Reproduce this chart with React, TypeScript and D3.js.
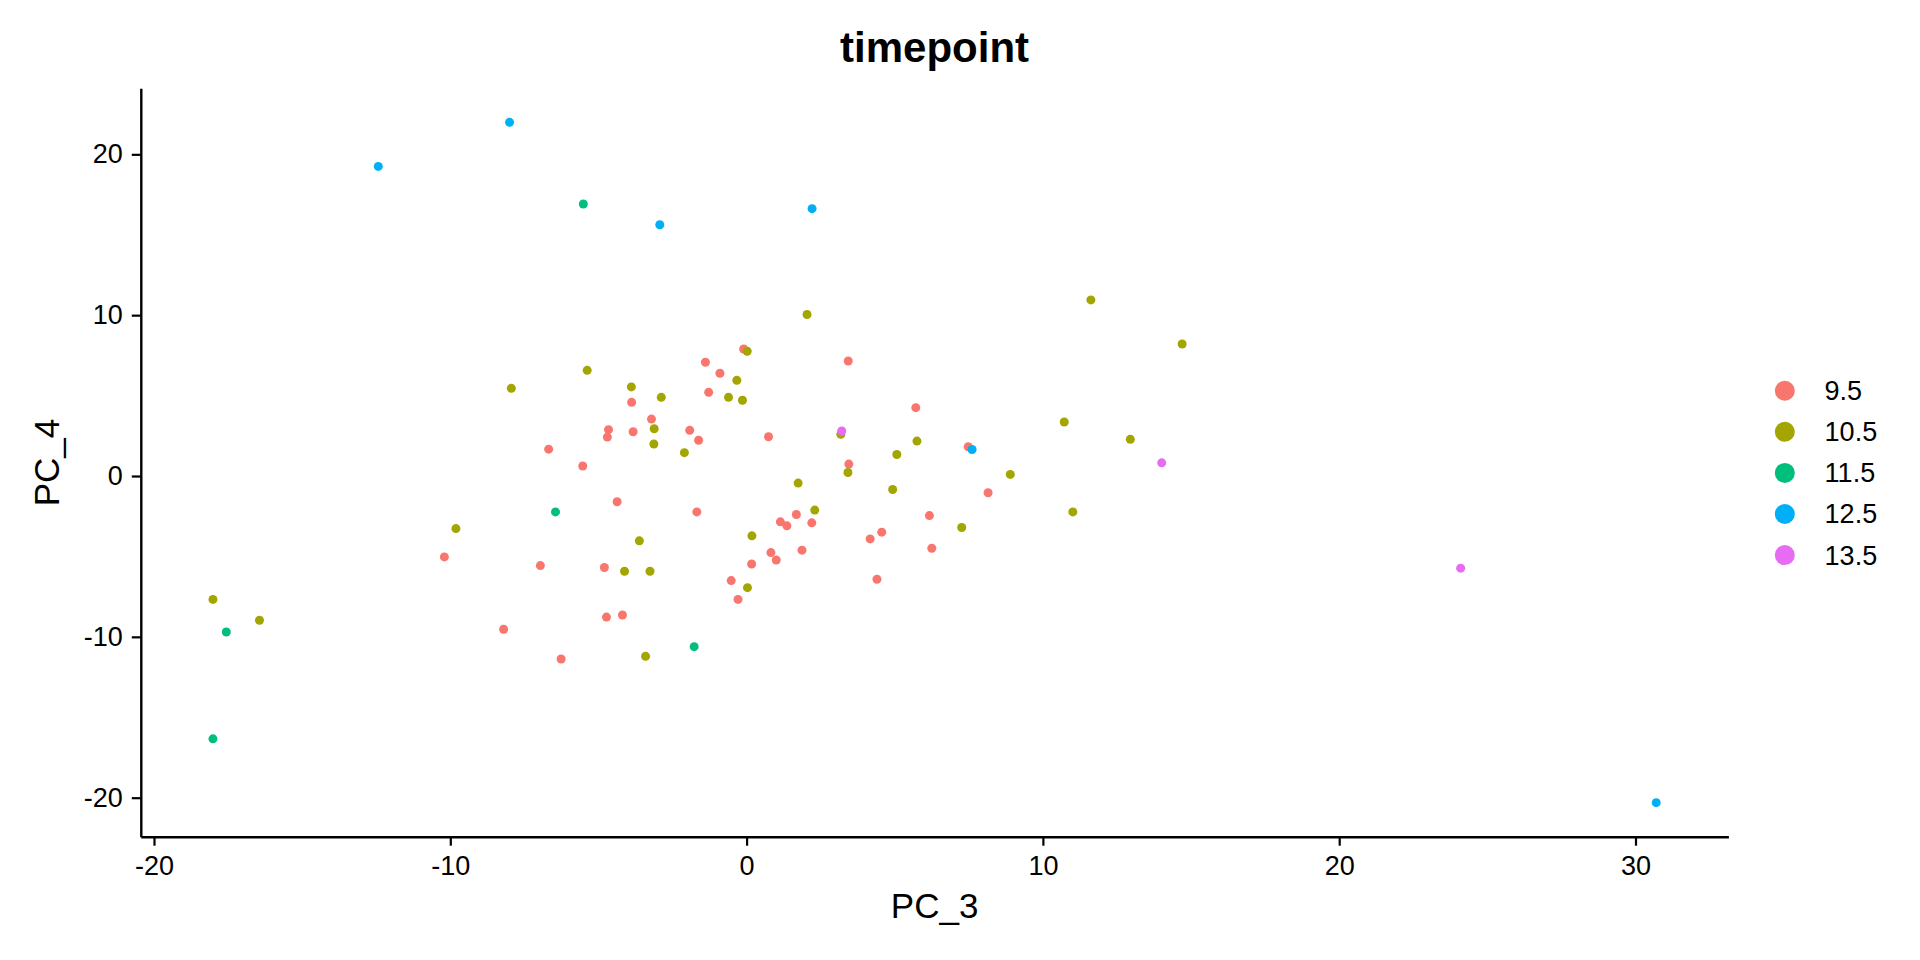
import React, { useRef, useEffect } from "react";
import * as d3 from "d3";

// timepoint groups and their ggplot hue colours
const timepoints = ["9.5", "10.5", "11.5", "12.5", "13.5"];
const colors = ["#F8766D", "#A3A500", "#00BF7D", "#00B0F6", "#E76BF3"];

// [PC_3, PC_4] per cell, one array per timepoint
const tp95: [number, number][] = [
  [-0.1, 7.9], [3.43, 7.15], [-1.39, 7.07], [-0.9, 6.39], [-1.28, 5.2], [-3.88, 4.58],
  [5.71, 4.25], [-3.21, 3.54], [-4.66, 2.88], [-4.7, 2.42], [-3.83, 2.75], [-1.92, 2.84],
  [-1.62, 2.22], [0.74, 2.44], [-6.68, 1.67], [-5.53, 0.62], [3.45, 0.74], [7.48, 1.82],
  [8.15, -1.04], [-4.37, -1.6], [-1.68, -2.23], [1.68, -2.39], [1.14, -2.85], [1.36, -3.1],
  [2.2, -2.91], [4.56, -3.49], [4.17, -3.91], [6.17, -2.46], [6.25, -4.49], [1.87, -4.61],
  [0.82, -4.76], [1.0, -5.22], [0.17, -5.47], [-0.52, -6.5], [-0.29, -7.67], [4.4, -6.42],
  [-10.2, -5.03], [-6.96, -5.57], [-4.8, -5.69], [-4.73, -8.77], [-4.19, -8.64],
  [-8.2, -9.53], [-6.26, -11.38],
];
const tp105: [number, number][] = [
  [-7.94, 5.45], [-5.38, 6.57], [-3.89, 5.54], [-2.88, 4.89], [-3.12, 2.94], [-3.13, 1.99],
  [-2.1, 1.45], [-0.33, 5.95], [-0.61, 4.89], [-0.14, 4.71], [0.02, 7.76], [2.04, 10.04],
  [11.62, 10.95], [14.7, 8.21], [10.72, 3.36], [12.95, 2.28], [5.75, 2.17], [5.07, 1.34],
  [3.18, 2.59], [3.42, 0.22], [1.74, -0.44], [4.93, -0.84], [8.9, 0.1], [11.01, -2.23],
  [7.26, -3.2], [2.3, -2.12], [0.18, -3.72], [0.03, -6.94], [-9.81, -3.27], [-3.62, -4.03],
  [-4.12, -5.92], [-3.26, -5.92], [-3.41, -11.21], [-18.01, -7.67], [-16.44, -8.97],
];
const tp115: [number, number][] = [
  [-5.51, 16.91], [-6.45, -2.23], [-17.56, -9.7], [-18.01, -16.34], [-1.77, -10.61],
];
const tp125: [number, number][] = [
  [-8.0, 21.99], [-12.43, 19.25], [-2.93, 15.62], [2.21, 16.62], [7.61, 1.65], [30.7, -20.31],
];
const tp135: [number, number][] = [
  [3.21, 2.8], [14.01, 0.82], [24.1, -5.73],
];

const xTicks = [-20, -10, 0, 10, 20, 30];
const yTicks = [-20, -10, 0, 10, 20];

const FONT = "'Liberation Sans', Arial, sans-serif";

const App: React.FC = () => {
  const svgRef = useRef<SVGSVGElement | null>(null);

  useEffect(() => {
    const svg = d3.select(svgRef.current);
    svg.selectAll("*").remove();

    const width = 1920;
    const height = 960;
    const panel = { left: 140.8, right: 1728.4, top: 88.3, bottom: 836.7 };

    const groups = [tp95, tp105, tp115, tp125, tp135];
    const all = groups.flat();

    // ggplot-style 5% expansion
    const [xmin, xmax] = d3.extent(all, (d) => d[0]) as [number, number];
    const [ymin, ymax] = d3.extent(all, (d) => d[1]) as [number, number];
    const xp = (xmax - xmin) * 0.05;
    const yp = (ymax - ymin) * 0.05;

    const x = d3.scaleLinear().domain([xmin - xp, xmax + xp]).range([panel.left, panel.right]);
    const y = d3.scaleLinear().domain([ymin - yp, ymax + yp]).range([panel.bottom, panel.top]);

    svg.attr("width", width).attr("height", height).attr("viewBox", `0 0 ${width} ${height}`);
    svg.append("rect").attr("width", width).attr("height", height).attr("fill", "#fff");

    // points, drawn group by group so later timepoints sit on top
    groups.forEach((pts, i) => {
      svg.append("g")
        .selectAll("circle")
        .data(pts)
        .enter()
        .append("circle")
        .attr("cx", (d) => x(d[0]))
        .attr("cy", (d) => y(d[1]))
        .attr("r", 4.5)
        .attr("fill", colors[i]);
    });

    // axes (plain hyphen minus like R)
    const fmt = (d: d3.NumberValue) => String(d);
    const xAxis = svg.append("g")
      .attr("transform", `translate(0,${panel.bottom})`)
      .call(d3.axisBottom(x).tickValues(xTicks).tickFormat(fmt).tickSize(9).tickSizeOuter(0).tickPadding(10));
    const yAxis = svg.append("g")
      .attr("transform", `translate(${panel.left},0)`)
      .call(d3.axisLeft(y).tickValues(yTicks).tickFormat(fmt).tickSize(9).tickSizeOuter(0).tickPadding(9));

    [xAxis, yAxis].forEach((g) => {
      g.select(".domain").attr("stroke", "#000").attr("stroke-width", 2.4);
      g.selectAll(".tick line").attr("stroke", "#000").attr("stroke-width", 2.2);
      g.selectAll(".tick text")
        .attr("fill", "#000")
        .style("font-family", FONT)
        .style("font-size", "27px");
    });

    // titles
    const cx = (panel.left + panel.right) / 2;
    svg.append("text")
      .attr("x", cx)
      .attr("y", 61.7)
      .attr("text-anchor", "middle")
      .style("font-family", FONT)
      .style("font-size", "42px")
      .style("font-weight", "bold")
      .text("timepoint");

    svg.append("text")
      .attr("x", cx)
      .attr("y", 918.3)
      .attr("text-anchor", "middle")
      .style("font-family", FONT)
      .style("font-size", "35px")
      .text("PC_3");

    svg.append("text")
      .attr("transform", `translate(59,${(panel.top + panel.bottom) / 2}) rotate(-90)`)
      .attr("text-anchor", "middle")
      .style("font-family", FONT)
      .style("font-size", "35px")
      .text("PC_4");

    // legend
    const legend = svg.append("g").attr("transform", "translate(1784.8,390.7)");
    const item = legend.selectAll("g")
      .data(timepoints)
      .enter()
      .append("g")
      .attr("transform", (_, i) => `translate(0,${i * 41.1})`);
    item.append("circle").attr("r", 10).attr("fill", (_, i) => colors[i]);
    item.append("text")
      .attr("x", 39.8)
      .attr("dy", "0.35em")
      .style("font-family", FONT)
      .style("font-size", "27px")
      .text((d) => d);
  }, []);

  return (
    <div style={{ position: "absolute", left: 0, top: 0 }}>
      <svg ref={svgRef} style={{ display: "block" }} />
    </div>
  );
};

export default App;
